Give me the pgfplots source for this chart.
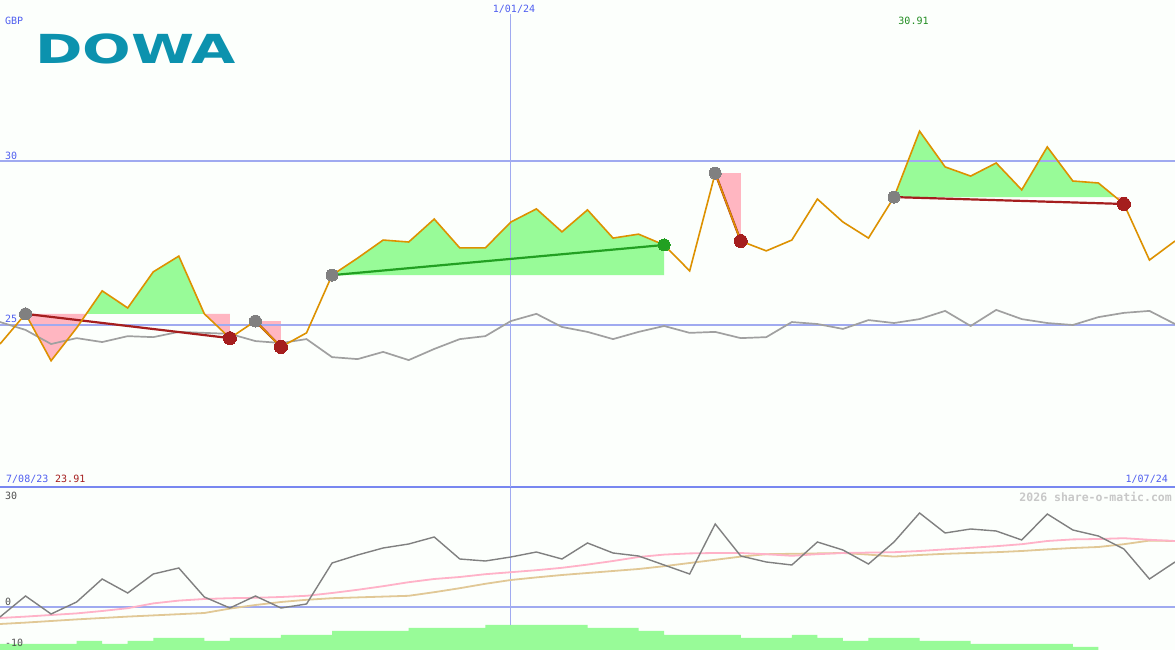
\documentclass[border=0pt]{standalone}
\usepackage{pgfplots}
\pgfplotsset{compat=1.18}
\usepackage{pgfplotstable}
\usepackage{graphicx}
\usepackage{fontspec}
\setmainfont{DejaVu Sans}
\newfontfamily\monof{DejaVu Sans Mono}
\definecolor{orng}{RGB}{221,145,0}
\definecolor{pgreen}{RGB}{152,251,152}
\definecolor{lpink}{RGB}{255,182,193}
\definecolor{gridb}{RGB}{160,170,240}
\definecolor{sepb}{RGB}{120,135,240}
\definecolor{lblue}{RGB}{80,95,240}
\definecolor{dred}{RGB}{165,30,30}
\definecolor{dgreen}{RGB}{34,160,34}
\definecolor{tgreen}{RGB}{32,140,32}
\definecolor{gline}{RGB}{160,160,160}
\definecolor{gtwo}{RGB}{128,128,128}
\definecolor{mapink}{RGB}{255,178,200}
\definecolor{tantwo}{RGB}{225,200,150}
\definecolor{tealtwo}{RGB}{12,146,174}
\definecolor{wmark}{RGB}{200,200,200}
\definecolor{dgray}{RGB}{80,80,80}
\newcommand\lf{\monof\fontsize{10}{12}\selectfont}

\pgfplotstableread{
i price bench
0 24.42 25.09
1 25.34 24.85
2 23.91 24.42
3 24.91 24.60
4 26.04 24.48
5 25.52 24.66
6 26.62 24.63
7 27.10 24.79
8 25.34 24.76
9 24.60 24.73
10 25.12 24.51
11 24.33 24.45
12 24.76 24.57
13 26.52 24.02
14 27.04 23.96
15 27.59 24.18
16 27.53 23.93
17 28.23 24.27
18 27.35 24.57
19 27.35 24.66
20 28.14 25.12
21 28.54 25.34
22 27.84 24.94
23 28.51 24.79
24 27.65 24.57
25 27.77 24.79
26 27.44 24.97
27 26.65 24.76
28 29.63 24.79
29 27.56 24.60
30 27.26 24.63
31 27.59 25.09
32 28.84 25.03
33 28.14 24.88
34 27.65 25.15
35 28.90 25.06
36 30.91 25.18
37 29.82 25.43
38 29.54 24.97
39 29.94 25.46
40 29.12 25.18
41 30.43 25.06
42 29.39 25.00
43 29.33 25.24
44 28.69 25.37
45 26.98 25.43
46 27.56 25.03
}\maintab

\pgfplotstableread{
i mom maone matwo
0 -2.5 -2.75 -4.25
1 2.75 -2.4 -3.9
2 -1.75 -2.0 -3.5
3 1.25 -1.6 -3.1
4 7 -1.0 -2.75
5 3.5 -0.3 -2.4
6 8.25 0.9 -2.1
7 9.75 1.6 -1.8
8 2.5 2.0 -1.5
9 -0.25 2.2 -0.4
10 2.75 2.3 0.5
11 -0.25 2.5 1.25
12 0.75 2.8 1.8
13 11 3.5 2.2
14 13 4.3 2.4
15 14.75 5.2 2.6
16 15.75 6.2 2.8
17 17.5 7.0 3.7
18 12 7.5 4.7
19 11.5 8.2 5.8
20 12.5 8.7 6.75
21 13.75 9.2 7.4
22 12 9.8 8.0
23 16 10.6 8.5
24 13.5 11.5 9.0
25 12.75 12.5 9.5
26 10.5 13.1 10.2
27 8.25 13.4 11.0
28 20.75 13.5 11.8
29 12.75 13.5 12.6
30 11.25 13.2 13.2
31 10.5 12.8 13.3
32 16.25 13.2 13.4
33 14.25 13.5 13.5
34 10.75 13.6 13.1
35 16.25 13.7 12.6
36 23.5 14.0 13.0
37 18.5 14.4 13.3
38 19.5 14.8 13.5
39 19 15.2 13.7
40 16.75 15.7 14.0
41 23.25 16.5 14.4
42 19.25 16.9 14.75
43 17.75 17.0 15.0
44 14.5 17.2 15.7
45 7 16.8 16.6
46 11.25 16.5 16.5
}\subtab

\begin{document}
\begin{tikzpicture}
\path[use as bounding box] (0,0) rectangle (1175pt,650pt);
\fill[white!99!green] (0,0) rectangle (1175pt,650pt);

% ---------- volume bars
\begin{axis}[at={(0pt,0pt)}, anchor=south west, scale only axis,
  width=1175pt, height=163pt, xmin=0, xmax=46, ymin=0, ymax=163,
  hide axis, ybar interval=1]
\addplot[fill=pgreen, draw=none] coordinates {
(0,6)(1,6)(2,6)(3,9)(4,6)(5,9)(6,12)(7,12)(8,9)(9,12)(10,12)(11,15)(12,15)
(13,19)(14,19)(15,19)(16,22)(17,22)(18,22)(19,25)(20,25)(21,25)(22,25)
(23,22)(24,22)(25,19)(26,15)(27,15)(28,15)(29,12)(30,12)(31,15)(32,12)
(33,9)(34,12)(35,12)(36,9)(37,9)(38,6)(39,6)(40,6)(41,6)(42,3)(43,3)};
\end{axis}

% ---------- lower panel
\begin{axis}[at={(0pt,0pt)}, anchor=south west, scale only axis,
  width=1175pt, height=163pt, xmin=0, xmax=46, ymin=-10.75, ymax=30,
  hide axis, clip=false]
\addplot[gridb, line width=1.6pt] coordinates {(0,0) (46,0)};
\addplot[gridb, line width=0.8pt] coordinates {(20,-4.5) (20,30)};
\addplot[sepb, line width=2pt] coordinates {(0,30) (46,30)};
\addplot[tantwo, line width=1.8pt] table[x=i,y=matwo]{\subtab};
\addplot[mapink, line width=1.8pt] table[x=i,y=maone]{\subtab};
\addplot[gtwo, line width=1.4pt] table[x=i,y=mom]{\subtab};
\end{axis}

% ---------- main panel
\begin{axis}[at={(0pt,163pt)}, anchor=south west, scale only axis,
  width=1175pt, height=487pt, xmin=0, xmax=46, ymin=20.061, ymax=34.909,
  hide axis]
% trade fills: region between price and entry level
\addplot[fill=lpink, draw=none] coordinates {(1,25.34) (2,23.91) (3,24.91) (3.38,25.34)};
\addplot[fill=pgreen, draw=none] coordinates {(3.38,25.34) (4,26.04) (5,25.52) (6,26.62) (7,27.10) (8,25.34)};
\addplot[fill=lpink, draw=none] coordinates {(8,25.34) (9,24.60) (9,25.34)};
\addplot[fill=lpink, draw=none] coordinates {(10,25.12) (11,24.33) (11,25.12)};
\addplot[fill=pgreen, draw=none] coordinates {(13,26.52) (14,27.04) (15,27.59) (16,27.53)
  (17,28.23) (18,27.35) (19,27.35) (20,28.14) (21,28.54) (22,27.84) (23,28.51)
  (24,27.65) (25,27.77) (26,27.44) (26,26.52)};
\addplot[fill=lpink, draw=none] coordinates {(28,29.63) (29,27.56) (29,29.63)};
\addplot[fill=pgreen, draw=none] coordinates {(35,28.90) (36,30.91) (37,29.82) (38,29.54)
  (39,29.94) (40,29.12) (41,30.43) (42,29.39) (43,29.33) (43.67,28.90)};
\addplot[fill=lpink, draw=none] coordinates {(43.67,28.90) (44,28.69) (44,28.90)};

\addplot[gridb, line width=1.6pt] coordinates {(0,30) (46,30)};
\addplot[gridb, line width=1.6pt] coordinates {(0,25) (46,25)};
\addplot[gridb, line width=0.8pt] coordinates {(20,20.061) (20,34.48)};

\addplot[gline, line width=1.7pt] table[x=i,y=bench]{\maintab};

\addplot[dred, line width=2.2pt] coordinates {(1,25.34) (9,24.60)};
\addplot[dred, line width=2.2pt] coordinates {(10,25.12) (11,24.33)};
\addplot[dgreen, line width=2.2pt] coordinates {(13,26.52) (26,27.44)};
\addplot[dred, line width=2.2pt] coordinates {(28,29.63) (29,27.56)};
\addplot[dred, line width=2.2pt] coordinates {(35,28.90) (44,28.69)};

\addplot[gtwo, only marks, mark=*, mark size=6pt, mark options={fill=gtwo, draw=gtwo, line width=0pt}]
  coordinates {(1,25.34) (10,25.12) (13,26.52) (28,29.63) (35,28.90)};
\addplot[dred, only marks, mark=*, mark size=6.5pt, mark options={fill=dred, draw=dred, line width=0pt}]
  coordinates {(9,24.60) (11,24.33) (29,27.56) (44,28.69)};
\addplot[dgreen, only marks, mark=*, mark size=6pt, mark options={fill=dgreen, draw=dgreen, line width=0pt}]
  coordinates {(26,27.44)};

\addplot[orng, line width=1.6pt] table[x=i,y=price]{\maintab};
\end{axis}

% ---------- texts
\node[anchor=west, inner sep=0pt, text=lblue, font=\lf] at (5pt,629pt) {GBP};
\node[anchor=base west, inner sep=0pt, text=tealtwo] at (35pt,586pt)
  {\scalebox{1.43}[1]{\fontsize{40}{40}\selectfont\bfseries DOWA}};
\node[anchor=west, inner sep=0pt, text=lblue, font=\lf] at (5pt,494pt) {30};
\node[anchor=west, inner sep=0pt, text=lblue, font=\lf] at (5pt,331pt) {25};
\node[inner sep=0pt, text=lblue, font=\lf] at (514pt,640.5pt) {1/01/24};
\node[inner sep=0pt, text=tgreen, font=\lf] at (913.5pt,629pt) {30.91};
\node[anchor=west, inner sep=0pt, text=lblue, font=\lf] at (6pt,171pt) {7/08/23};
\node[anchor=west, inner sep=0pt, text=dred, font=\lf] at (55pt,171pt) {23.91};
\node[anchor=east, inner sep=0pt, text=lblue, font=\lf] at (1168pt,171pt) {1/07/24};
\node[anchor=west, inner sep=0pt, text=dgray, font=\lf] at (5pt,154pt) {30};
\node[anchor=west, inner sep=0pt, text=dgray, font=\lf] at (5pt,48pt) {0};
\node[anchor=west, inner sep=0pt, text=dgray, font=\lf] at (5pt,7.5pt) {-10};
\node[anchor=east, inner sep=0pt, text=wmark, font={\monof\bfseries\fontsize{11.5}{13}\selectfont}]
  at (1172pt,153.5pt) {2026 share-o-matic.com};
\end{tikzpicture}
\end{document}
